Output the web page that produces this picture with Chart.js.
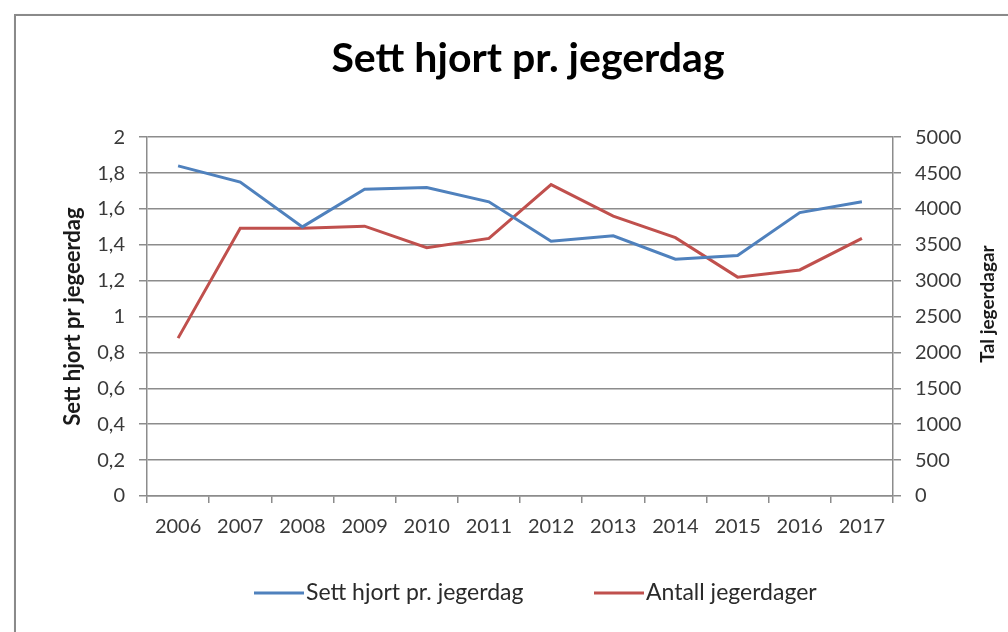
<!DOCTYPE html>
<html lang="no">
<head>
  <meta charset="UTF-8">
  <title>Sett hjort pr. jegerdag</title>
  <script src="https://cdn.jsdelivr.net/npm/chart.js"></script>
  <style>
    html, body {
      margin: 0;
      padding: 0;
      background: #fff;
    }
    body {
      width: 1008px;
      height: 632px;
      position: relative;
      overflow: hidden;
    }
    .frame {
      position: absolute;
      left: 14px;
      top: 14px;
      width: 1100px;
      height: 700px;
      border: 2px solid #8a8a8a;
      box-shadow: 1px 1px 2px rgba(0,0,0,0.25);
    }
    canvas {
      position: absolute;
      left: 0;
      top: 0;
    }
  </style>
</head>
<body>
  <div class="frame"></div>
  <canvas id="chart" width="1008" height="632"></canvas>

  <script>
    // data
    const years = ['2006', '2007', '2008', '2009', '2010', '2011', '2012', '2013', '2014', '2015', '2016', '2017'];
    const settHjort = [1.84, 1.75, 1.50, 1.71, 1.72, 1.64, 1.42, 1.45, 1.32, 1.34, 1.58, 1.64];
    const jegerdager = [2200, 3730, 3730, 3760, 3460, 3590, 4340, 3900, 3600, 3050, 3150, 3590];

    const gridColor = '#8c8c8c';
    const tickColor = '#3a3a3a';
    const family = 'Lato, "Open Sans", sans-serif';

    // right axis title reads bottom-to-top like in Excel
    const rightTitle = {
      id: 'rightTitle',
      afterDraw(chart) {
        const c = chart.ctx;
        c.save();
        c.translate(988, 304);
        c.rotate(-Math.PI / 2);
        c.font = 'bold 19px ' + family;
        c.fillStyle = '#1a1a1a';
        c.textAlign = 'center';
        c.textBaseline = 'middle';
        c.fillText('Tal jegerdagar', 0, 0);
        c.restore();
      }
    };

    // Excel style legend: line sample directly followed by the text
    const excelLegend = {
      id: 'excelLegend',
      afterDraw(chart) {
        const c = chart.ctx;
        const starts = [254, 594];
        const y = 593;
        c.save();
        c.font = '23px ' + family;
        c.textBaseline = 'middle';
        c.textAlign = 'left';
        chart.data.datasets.forEach((ds, i) => {
          const x = starts[i];
          c.strokeStyle = ds.borderColor;
          c.lineWidth = 3;
          c.beginPath();
          c.moveTo(x, y);
          c.lineTo(x + 50, y);
          c.stroke();
          c.fillStyle = '#2a2a2a';
          c.fillText(ds.label, x + 52, y);
        });
        c.restore();
      }
    };

    const ctx = document.getElementById('chart').getContext('2d');
    new Chart(ctx, {
      type: 'line',
      data: {
        labels: years,
        datasets: [{
          label: 'Sett hjort pr. jegerdag',
          data: settHjort,
          yAxisID: 'y',
          borderColor: '#4f81bd',
          backgroundColor: '#4f81bd',
          borderWidth: 3,
          pointRadius: 0,
          tension: 0
        }, {
          label: 'Antall jegerdager',
          data: jegerdager,
          yAxisID: 'y1',
          borderColor: '#c0504d',
          backgroundColor: '#c0504d',
          borderWidth: 3,
          pointRadius: 0,
          tension: 0
        }]
      },
      options: {
        responsive: false,
        animation: false,
        layout: {
          // left padding shifts the title centre to match the frame
          padding: { left: 48, right: 0, top: 0, bottom: 86 }
        },
        plugins: {
          title: {
            display: true,
            text: 'Sett hjort pr. jegerdag',
            color: '#000',
            font: { family: family, size: 41, weight: 'bold' },
            padding: { top: 34, bottom: 54 }
          },
          legend: { display: false },
          tooltip: { enabled: false }
        },
        scales: {
          x: {
            offset: true,
            afterFit(scale) { scale.height = 50; },
            grid: {
              drawOnChartArea: false,
              drawTicks: true,
              tickLength: 7,
              color: gridColor,
              lineWidth: 1.5,
              offset: true
            },
            border: { color: gridColor, width: 1.5 },
            ticks: {
              color: tickColor,
              padding: 12,
              maxRotation: 0,
              autoSkip: false,
              font: { family: family, size: 20 }
            }
          },
          y: {
            position: 'left',
            min: 0,
            max: 2,
            afterFit(scale) { scale.width = 99; },
            ticks: {
              stepSize: 0.2,
              color: tickColor,
              padding: 14,
              font: { family: family, size: 20 },
              callback: v => Number(v.toFixed(1)).toString().replace('.', ',')
            },
            grid: {
              color: gridColor,
              lineWidth: 1.5,
              tickLength: 8
            },
            border: { color: gridColor, width: 1.5 },
            title: {
              display: true,
              text: 'Sett hjort pr jegeerdag',
              color: '#1a1a1a',
              font: { family: family, size: 22, weight: 'bold' },
              padding: { top: 12, bottom: 0 }
            }
          },
          y1: {
            position: 'right',
            min: 0,
            max: 5000,
            afterFit(scale) { scale.width = 115; },
            ticks: {
              stepSize: 500,
              color: tickColor,
              padding: 14,
              font: { family: family, size: 20 },
              callback: v => String(v)
            },
            grid: {
              drawOnChartArea: false,
              color: gridColor,
              lineWidth: 1.5,
              tickLength: 8
            },
            border: { color: gridColor, width: 1.5 }
          }
        }
      },
      plugins: [rightTitle, excelLegend]
    });
  </script>
</body>
</html>
